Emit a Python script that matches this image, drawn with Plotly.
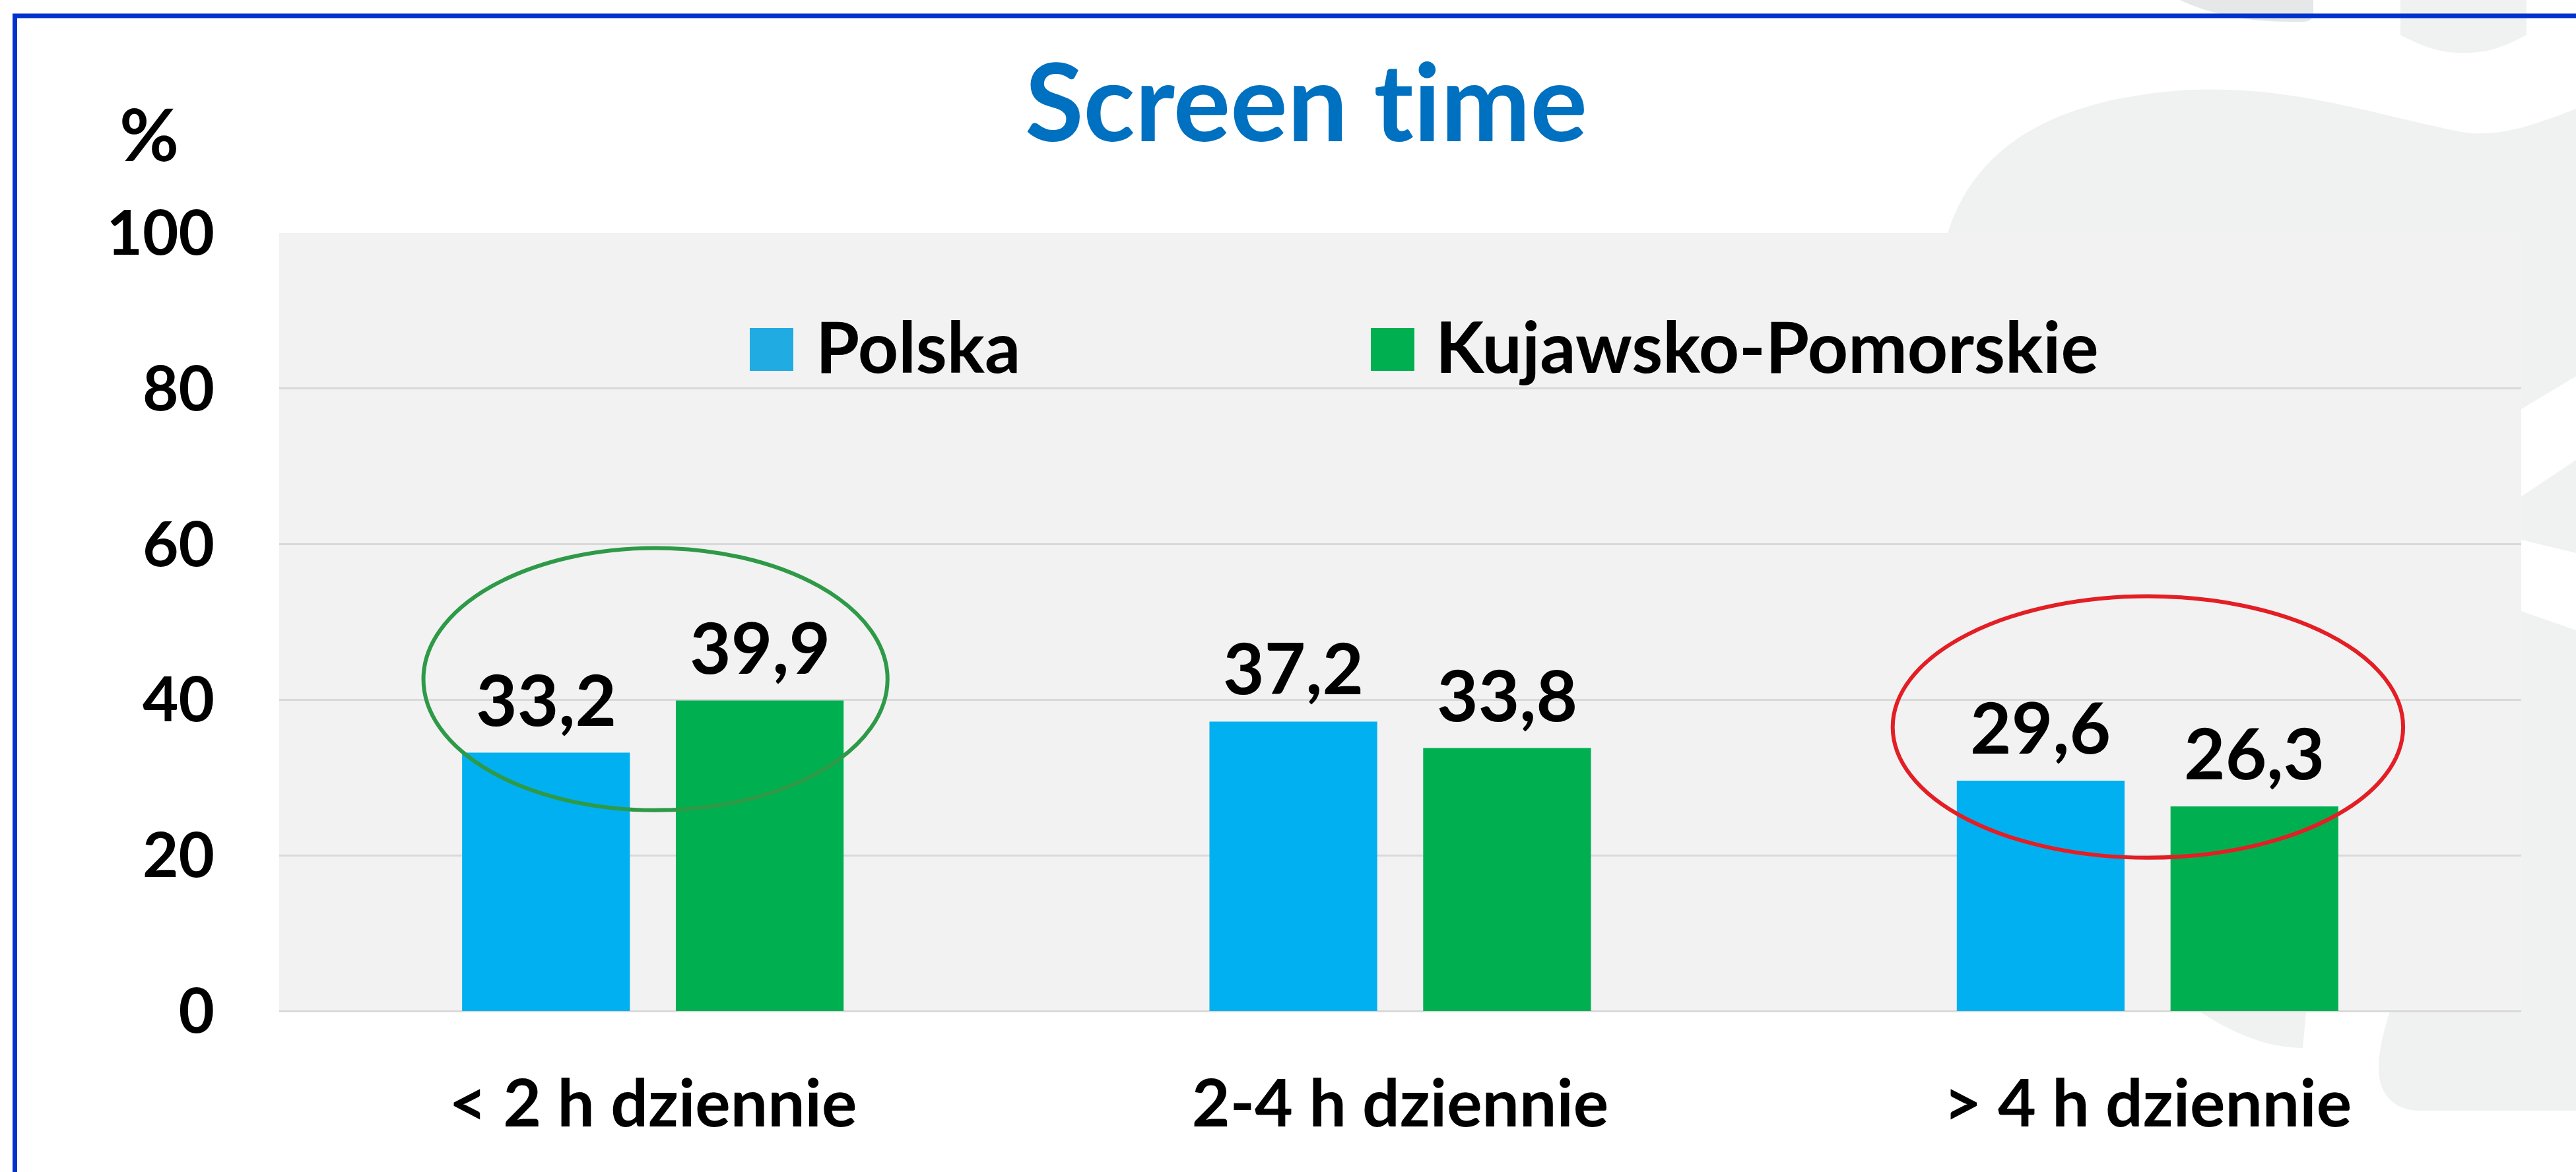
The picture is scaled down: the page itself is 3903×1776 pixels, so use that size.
import plotly.graph_objects as go

# --- data -----------------------------------------------------------------
categories = ["< 2 h dziennie", "2-4 h dziennie", "> 4 h dziennie"]
polska = [33.2, 37.2, 29.6]
kujawsko_pomorskie = [39.9, 33.8, 26.3]
series_names = ["Polska", "Kujawsko-Pomorskie"]
y_ticks = [0, 20, 40, 60, 80, 100]
title_text = "Screen t\u200cime"  # ZWNJ keeps "t" and "i" as separate glyphs

# --- page geometry (pixels) ----------------------------------------------
W, H = 3903, 1776
L, R, T, B = 423, 83, 353, 244
PW, PH = W - L - R, H - T - B

FONT = "Lato, 'Open Sans', sans-serif"
BLUE_BAR, GREEN_BAR = "#00B0F0", "#00B050"
BLUE_KEY = "#21ABE3"
GRID = "#D9D9D9"
SILHOUETTE = "#F0F1F1"


def px(x):
    return (x - L) / PW


def py(y):
    return (H - B - y) / PH


def path(cmds):
    """Build an SVG path in paper units from pixel-space commands."""
    out = []
    for letter, pts in cmds:
        if letter == "Z":
            out.append("Z")
            continue
        coords = []
        for i in range(0, len(pts), 2):
            coords.append(f"{px(pts[i]):.5f},{py(pts[i + 1]):.5f}")
        out.append(letter + " ".join(coords))
    return " ".join(out)


def fmt(v):
    return f"{v:.1f}".replace(".", ",")


fig = go.Figure()
fig.add_trace(go.Bar(x=categories, y=polska, name=series_names[0],
                     marker=dict(color=BLUE_BAR, line=dict(width=0)),
                     showlegend=False))
fig.add_trace(go.Bar(x=categories, y=kujawsko_pomorskie, name=series_names[1],
                     marker=dict(color=GREEN_BAR, line=dict(width=0)),
                     showlegend=False))

# value labels above each bar
slot = PW / len(categories) * (1 - 0.428) / 2
annotations = []
for vals, shift in ((polska, -slot / 2), (kujawsko_pomorskie, slot / 2)):
    for cat, v in zip(categories, vals):
        annotations.append(dict(
            x=cat, y=v, xref="x", yref="y", xshift=shift, yshift=16,
            text=fmt(v), showarrow=False, xanchor="center", yanchor="bottom",
            font=dict(family=FONT, size=108, color="black", weight="bold")))

# title and unit label
annotations.append(dict(x=px(1979), y=py(152), xref="paper", yref="paper",
                        text=title_text, showarrow=False,
                        xanchor="center", yanchor="middle",
                        font=dict(family=FONT, size=162, color="#0070C0",
                                  weight="bold")))
annotations.append(dict(x=px(226), y=py(201), xref="paper", yref="paper",
                        text="%", showarrow=False,
                        xanchor="center", yanchor="middle",
                        font=dict(family=FONT, size=110, color="black",
                                  weight="bold")))

# legend (drawn by hand for large keys)
legend_items = [(series_names[0], BLUE_KEY, 1136, 1234),
                (series_names[1], GREEN_BAR, 2077, 2173)]
shapes = []

# pale background silhouette
silhouettes = [
    (SILHOUETTE, [("M", [2951, 353]),
                  ("C", [2985, 245, 3080, 150, 3320, 136]),
                  ("C", [3480, 130, 3600, 175, 3730, 200]),
                  ("C", [3790, 210, 3850, 185, 3903, 165]),
                  ("L", [3903, 570]), ("L", [3800, 632]),
                  ("L", [3800, 700]), ("L", [2900, 700]), ("Z", [])]),
    (SILHOUETTE, [("M", [3800, 766]), ("L", [3903, 697]),
                  ("L", [3903, 838]), ("L", [3800, 813]), ("Z", [])]),
    (SILHOUETTE, [("M", [3800, 919]), ("L", [3903, 955]),
                  ("L", [3903, 1683]), ("L", [3665, 1683]),
                  ("C", [3630, 1683, 3604, 1660, 3604, 1620]),
                  ("C", [3604, 1590, 3612, 1560, 3625, 1520]),
                  ("L", [3800, 1500]), ("Z", [])]),
    (SILHOUETTE, [("M", [3300, 1510]),
                  ("C", [3380, 1570, 3440, 1588, 3489, 1588]),
                  ("L", [3496, 1510]), ("Z", [])]),
    (SILHOUETTE, [("M", [3637, -5]), ("L", [3637, 53]),
                  ("C", [3680, 75, 3700, 80, 3733, 80]),
                  ("C", [3766, 80, 3786, 75, 3828, 53]),
                  ("L", [3828, -5]), ("Z", [])]),
    ("#E6E7E8", [("M", [3293, -5]),
                 ("C", [3340, 20, 3400, 33, 3470, 33]),
                 ("L", [3490, 33]), ("Q", [3505, 33, 3505, 18]),
                 ("L", [3505, -5]), ("Z", [])]),
]
for color, cmds in silhouettes:
    shapes.append(dict(type="path", xref="paper", yref="paper",
                       path=path(cmds), fillcolor=color,
                       line=dict(width=0), layer="below"))

# plot area panel
shapes.append(dict(type="rect", xref="x domain", yref="y domain",
                   x0=0, x1=1, y0=0, y1=1, fillcolor="#F2F2F2",
                   line=dict(width=0), layer="below"))

for name, color, x0, tx in legend_items:
    shapes.append(dict(type="rect", xref="paper", yref="paper",
                       x0=px(x0), x1=px(x0 + 66), y0=py(562), y1=py(497),
                       fillcolor=color, line=dict(width=0), layer="above"))
    annotations.append(dict(x=px(tx), y=py(523), xref="paper", yref="paper",
                            text=name, showarrow=False,
                            xanchor="left", yanchor="middle",
                            font=dict(family=FONT, size=107, color="black",
                                      weight="bold")))

# highlight ellipses
shapes.append(dict(type="circle", xref="x", yref="y",
                   x0=-0.307, x1=0.314, y0=25.8, y1=59.5,
                   line=dict(color="#2E9A47", width=6), layer="above"))
shapes.append(dict(type="circle", xref="x", yref="y",
                   x0=1.659, x1=2.342, y0=19.7, y1=53.3,
                   line=dict(color="#E31E24", width=6), layer="above"))

# outer frame
shapes.append(dict(type="rect", xref="paper", yref="paper",
                   x0=px(22.5), x1=px(3960), y0=py(1860), y1=py(24),
                   line=dict(color="#0033CC", width=7), layer="above"))

fig.update_layout(
    width=W, height=H, autosize=False,
    margin=dict(l=L, r=R, t=T, b=B, pad=0),
    paper_bgcolor="white", plot_bgcolor="rgba(0,0,0,0)",
    barmode="group", bargap=0.428, bargroupgap=0.215,
    showlegend=False, hovermode=False,
    shapes=shapes, annotations=annotations,
    xaxis=dict(type="category", showgrid=False, zeroline=False,
               showline=False, ticks="", ticklabelstandoff=74,
               tickfont=dict(family=FONT, size=100, color="black",
                             weight="bold")),
    yaxis=dict(range=[0, 100], tickvals=y_ticks, showgrid=True,
               gridcolor=GRID, gridwidth=2.5, zeroline=True,
               zerolinecolor=GRID, zerolinewidth=2.5, showline=False,
               ticks="", ticklabelstandoff=97,
               tickfont=dict(family=FONT, size=94, color="black",
                             weight="bold")),
)

fig.write_html("out.html", config={"displayModeBar": False})
